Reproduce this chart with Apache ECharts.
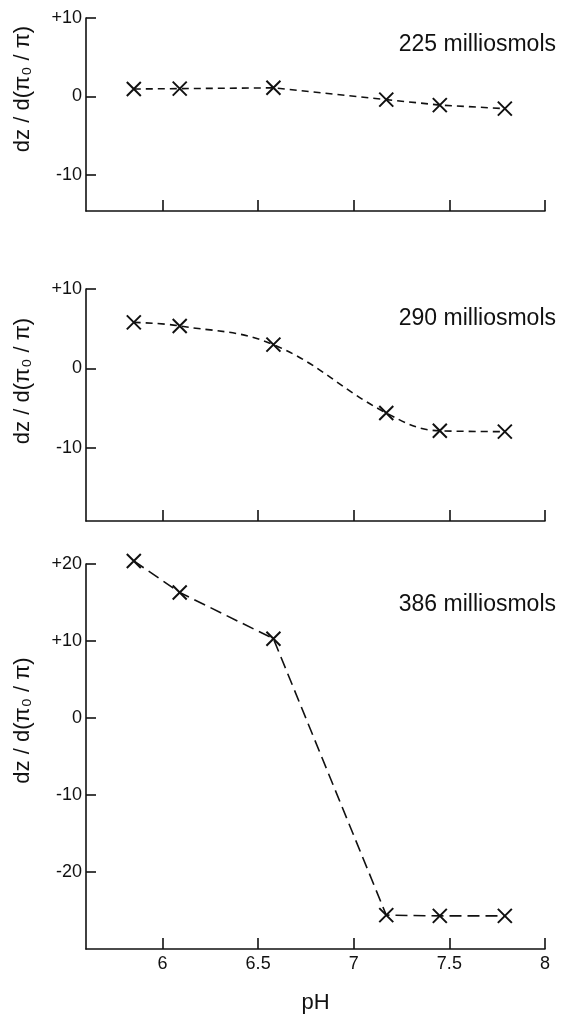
<!DOCTYPE html>
<html>
<head>
<meta charset="utf-8">
<script src="https://cdn.jsdelivr.net/npm/echarts@6/dist/echarts.min.js"></script>
<style>
html,body{margin:0;padding:0;background:#fff;}
#chart{width:565px;height:1015px;}
</style>
</head>
<body>
<div id="chart"></div>
<script>
const pH = [5.85, 6.09, 6.58, 7.17, 7.45, 7.79];
const dz225 = [0.95, 1.0, 1.1, -0.4, -1.1, -1.55];
const dz290 = [5.8, 5.35, 3.0, -5.6, -7.85, -7.95];
const dz386 = [20.4, 16.3, 10.3, -25.6, -25.7, -25.7];
const xTicks = [6, 6.5, 7, 7.5, 8];
const yTicks225 = [-10, 0, 10];
const yTicks290 = [-10, 0, 10];
const yTicks386 = [-20, -10, 0, 10, 20];
const panelLabels = ['225 milliosmols', '290 milliosmols', '386 milliosmols'];
const yName = 'dz / d(π₀ / π)';
const xName = 'pH';

const FONT = 'Liberation Sans, Arial, Helvetica, sans-serif';
const INK = '#111';
const cross = 'path://M0,0L10,10M10,0L0,10';

const grids = [
  {left: 86, top: 18, width: 459, height: 193},
  {left: 86, top: 289, width: 459, height: 232},
  {left: 86, top: 564, width: 459, height: 388}
];
const yRanges = [[-14.6, 10], [-19.2, 10], [-30, 20]];
const yTickSets = [yTicks225, yTicks290, yTicks386];
const namePads = [51, 48, 72];
const series = [dz225, dz290, dz386];

function fmtY(v){ return v > 0 ? '+' + v : String(v); }

const option = {
  backgroundColor: '#fff',
  animation: false,
  title: panelLabels.map((t, i) => ({
    text: t, right: 4, top: [28, 302, 588][i],
    textStyle: {fontFamily: FONT, fontSize: 23, fontWeight: 'normal', color: INK}
  })),
  grid: grids,
  xAxis: grids.map((g, i) => ({
    type: 'value', gridIndex: i, min: 5.6, max: 8,
    name: i === 2 ? xName : '',
    nameLocation: 'middle', nameGap: 43,
    nameTextStyle: {fontFamily: FONT, fontSize: 22, color: INK},
    axisLine: {show: true, onZero: false, lineStyle: {color: INK, width: 1.6}},
    axisTick: {show: true, inside: true, length: 11, customValues: xTicks, lineStyle: {color: INK, width: 1.6}},
    axisLabel: {show: i === 2, customValues: xTicks, margin: 6,
      fontFamily: FONT, fontSize: 18, color: INK, formatter: v => String(v)},
    splitLine: {show: false}
  })),
  yAxis: grids.map((g, i) => ({
    type: 'value', gridIndex: i, min: yRanges[i][0], max: yRanges[i][1],
    name: yName, nameLocation: 'middle', nameGap: 52, nameRotate: 90,
    nameTextStyle: {fontFamily: FONT, fontSize: 22, color: INK, padding: [0, 0, 0, namePads[i]]},
    axisLine: {show: true, onZero: false, lineStyle: {color: INK, width: 1.6}},
    axisTick: {show: true, inside: true, length: 10, customValues: yTickSets[i], lineStyle: {color: INK, width: 1.6}},
    axisLabel: {show: true, customValues: yTickSets[i], margin: 4,
      fontFamily: FONT, fontSize: 18, color: INK, formatter: fmtY},
    splitLine: {show: false}
  })),
  series: series.map((d, i) => ({
    type: 'line', xAxisIndex: i, yAxisIndex: i,
    data: pH.map((x, k) => [x, d[k]]),
    smooth: i === 1 ? 0.4 : false,
    clip: false,
    symbol: cross, symbolSize: 14, symbolKeepAspect: true,
    itemStyle: {color: INK, borderColor: INK, borderWidth: 2},
    lineStyle: {color: INK, width: 1.6, type: i === 2 ? [12, 6] : [7, 5]}
  }))
};

const chart = echarts.init(document.getElementById('chart'), null, {renderer: 'canvas'});
chart.setOption(option);
</script>
</body>
</html>
